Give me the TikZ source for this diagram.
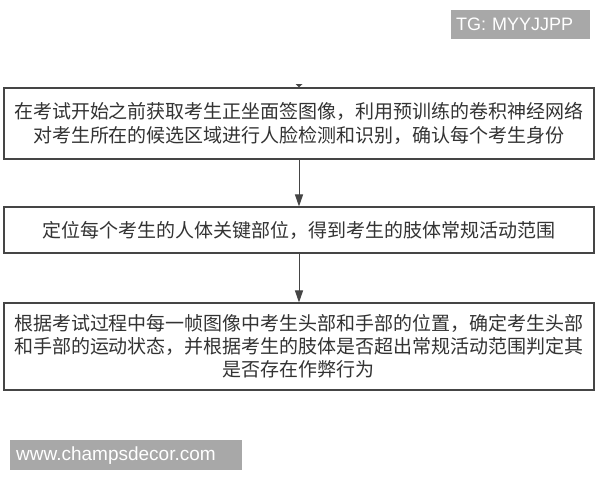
\documentclass[tikz,border=0pt]{standalone}
\usepackage{fontspec}
\setmainfont{Liberation Sans}
\newfontfamily\cjk{Noto Sans CJK SC}
\usetikzlibrary{arrows.meta}
\definecolor{boxgrey}{HTML}{454545}
\definecolor{txt}{HTML}{333333}
\definecolor{taggrey}{HTML}{A8A8A8}
\begin{document}
\begin{tikzpicture}[x=1pt,y=-1pt,
  stepbox/.style={draw=boxgrey,line width=1.1pt,rectangle,inner sep=0pt,
    minimum width=590pt,text=txt,align=center},
  flow/.style={draw=boxgrey,line width=1pt,-{Triangle[length=12pt,width=8pt]}},
  tag/.style={fill=taggrey,text=white,inner xsep=5pt,inner ysep=0pt,
    align=left,font=\fontsize{18}{18}\selectfont}
]
\useasboundingbox (0,0) rectangle (600,480);
\fill[white] (0,0) rectangle (600,480);

\node[tag,minimum height=29pt,text width=129pt,anchor=north west] (tg) at (451,10) {TG: MYYJJPP};

\node[stepbox,minimum height=71pt,font=\cjk\fontsize{19}{24}\selectfont] (s1) at (299,123.5)
  {在考试开始之前获取考生正坐面签图像，利用预训练的卷积神经网络\\对考生所在的候选区域进行人脸检测和识别，确认每个考生身份};
\node[stepbox,minimum height=46pt,font=\cjk\fontsize{19}{24}\selectfont] (s2) at (299,230)
  {定位每个考生的人体关键部位，得到考生的肢体常规活动范围};
\node[stepbox,minimum height=87pt,font=\cjk\fontsize{19}{23}\selectfont] (s3) at (299,346.5)
  {根据考试过程中每一帧图像中考生头部和手部的位置，确定考生头部\\和手部的运动状态，并根据考生的肢体是否超出常规活动范围判定其\\是否存在作弊行为};

\coordinate (stub) at (299,84);
\fill[boxgrey] ([xshift=-3.5pt]stub) -- ([xshift=3.5pt]stub) -- (s1.north) -- cycle;

\draw[flow] (s1) -- (s2);
\draw[flow] (s2) -- (s3);

\node[tag,inner xsep=6pt,minimum height=30pt,text width=220pt,anchor=north west,
  font=\fontsize{19}{19}\selectfont] (www) at (10,440) {www.champsdecor.com};
\end{tikzpicture}
\end{document}
